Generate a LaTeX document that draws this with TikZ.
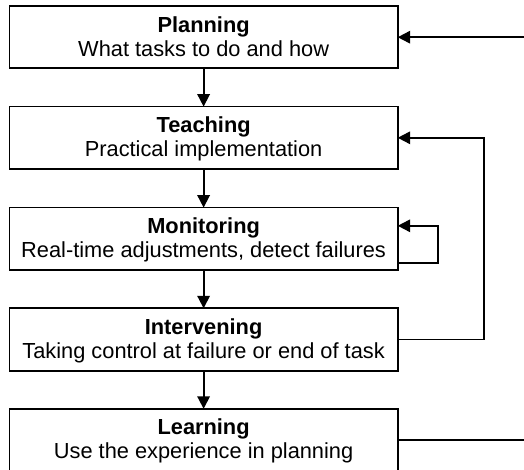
\documentclass[tikz,border=0pt]{standalone}
\usepackage{fontspec}
\setmainfont{Liberation Sans}
\usetikzlibrary{arrows.meta}

% strut that places the two text lines a little below the box centre
\newcommand\linestrut{\rule[-3pt]{0pt}{21pt}}
\newcommand\stagetext[2]{\textbf{#1}\linestrut\\#2\linestrut}

\begin{document}
\begin{tikzpicture}[x=1pt,y=-1pt,
  stagebox/.style={draw, line width=1.8pt, rectangle, minimum width=388.2pt,
    minimum height=62.4pt, inner sep=0pt, outer sep=0pt, align=center,
    font=\fontsize{21.8}{24.3}\selectfont},
  arr/.style={line width=1.8pt, -{Triangle[length=12.5pt,width=12.5pt]}},
  link/.style={line width=1.8pt}]
  \useasboundingbox (0,0) rectangle (524,470);
  \clip (0,0) rectangle (524,470);

  % the five stages
  \node[stagebox] (plan)   at (203.6,37.2)  {\stagetext{Planning}{What tasks to do and how}};
  \node[stagebox] (teach)  at (203.6,137.8) {\stagetext{Teaching}{Practical implementation}};
  \node[stagebox] (mon)    at (203.6,238.8) {\stagetext{Monitoring}{Real-time adjustments, detect failures}};
  \node[stagebox] (interv) at (203.6,339.5) {\stagetext{Intervening}{Taking control at failure or end of task}};
  \node[stagebox] (learn)  at (203.6,440)   {\stagetext{Learning}{Use the experience in planning}};

  % main sequence
  \draw[arr] (plan.south)   -- (teach.north);
  \draw[arr] (teach.south)  -- (mon.north);
  \draw[arr] (mon.south)    -- (interv.north);
  \draw[arr] (interv.south) -- (learn.north);

  % monitoring self loop
  \draw[arr] ([yshift=-24.4pt]mon.east) -- ++(40.5,0) |- ([yshift=13pt]mon.east);

  % intervening back to teaching
  \draw[arr] (interv.east) -- ++(86.6,0) |- (teach.east);

  % learning back to planning, along the right edge
  \coordinate (rightrail) at (530,0);
  \draw[arr] (learn.east) -- (learn.east -| rightrail) |- (plan.east);
\end{tikzpicture}
\end{document}
